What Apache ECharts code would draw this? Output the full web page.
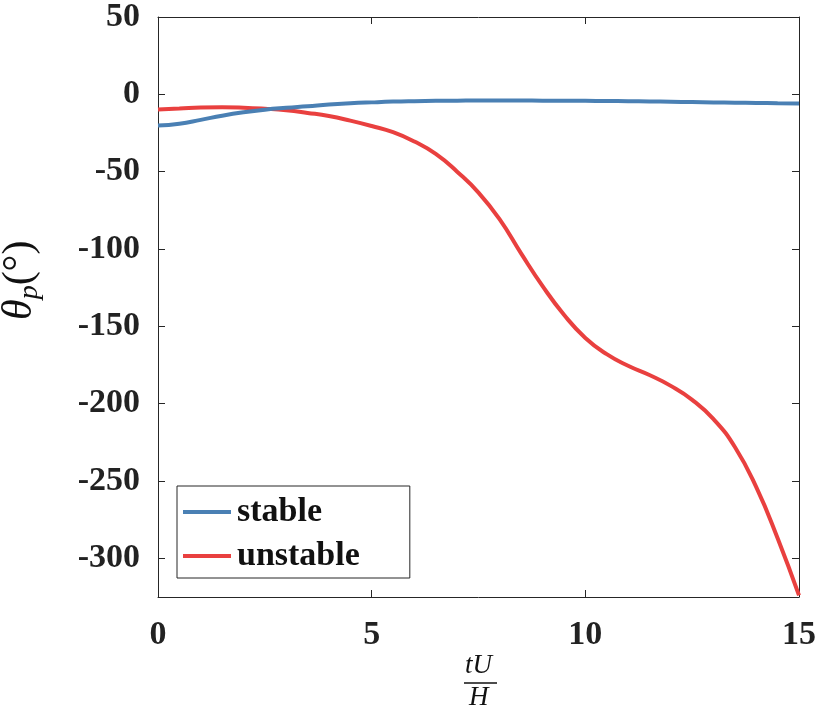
<!DOCTYPE html>
<html>
<head>
<meta charset="utf-8">
<script src="https://cdn.jsdelivr.net/npm/echarts@6/dist/echarts.min.js"></script>
<style>
  html, body { margin: 0; padding: 0; background: #fff; }
  #chart { width: 819px; height: 711px; }
</style>
</head>
<body>
<div id="chart"></div>
<script>
// time axis tU/H
var tVals = [0, 0.5, 1, 1.5, 2, 2.5, 3, 3.5, 4, 4.5, 5, 5.5, 6, 6.5, 7, 7.5,
             8, 8.5, 9, 9.5, 10, 10.5, 11, 11.5, 12, 12.5, 13, 13.5, 14, 14.5, 15];
// theta_p, stable case
var stableVals = [-20.2, -19, -16.5, -13.8, -11.6, -9.9, -8.7, -7.7, -6.6, -5.8,
                  -5.2, -4.7, -4.4, -4.2, -4.1, -4.0, -4.0, -4.0, -4.1, -4.1,
                  -4.2, -4.3, -4.4, -4.6, -4.8, -5.0, -5.2, -5.4, -5.6, -5.7, -5.9];
// theta_p, unstable case
var unstableVals = [-9.8, -9.2, -8.5, -8.3, -8.6, -9.3, -10.3, -12, -14, -17,
                    -20.5, -24.5, -30.5, -38.5, -50, -63.5, -81, -103, -124, -142.5,
                    -157.5, -168, -175.5, -181.5, -188.5, -197.5, -210, -228, -254, -287, -324];
var seriesNames = ['stable', 'unstable'];
var xTicks = [0, 5, 10, 15];
var yTicks = [50, 0, -50, -100, -150, -200, -250, -300];

function pairs(xs, ys) {
  var out = [];
  for (var i = 0; i < xs.length; i++) out.push([xs[i], ys[i]]);
  return out;
}

var serifBold = { fontFamily: 'Liberation Serif', fontWeight: 'bold', fontSize: 34, color: '#222' };
var axisCol = '#262626';
var tickStyle = { inside: true, length: 7, lineStyle: { color: axisCol } };

var myChart = echarts.init(document.getElementById('chart'));

var option = {
  animation: false,
  backgroundColor: '#fff',
  grid: { left: 158, right: 17, top: 15, bottom: 114, containLabel: false },
  xAxis: [{
    type: 'value', min: 0, max: 15, interval: 5,
    axisLine: { onZero: false, lineStyle: { color: axisCol, width: 1 } },
    axisTick: Object.assign({ customValues: xTicks }, tickStyle),
    axisLabel: Object.assign({ margin: 21, customValues: xTicks }, serifBold),
    splitLine: { show: false }
  }, {
    type: 'value', min: 0, max: 15, interval: 5, position: 'top',
    axisLine: { onZero: false, lineStyle: { color: axisCol, width: 1 } },
    axisTick: Object.assign({ customValues: xTicks }, tickStyle),
    axisLabel: { show: false }, splitLine: { show: false }
  }],
  yAxis: [{
    type: 'value', min: -325, max: 50, interval: 25,
    axisLine: { onZero: false, show: true, lineStyle: { color: axisCol, width: 1 } },
    axisTick: Object.assign({ show: true, customValues: yTicks }, tickStyle),
    axisLabel: Object.assign({ margin: 18, customValues: yTicks }, serifBold),
    splitLine: { show: false }
  }, {
    type: 'value', min: -325, max: 50, interval: 25, position: 'right',
    axisLine: { onZero: false, show: true, lineStyle: { color: axisCol, width: 1 } },
    axisTick: Object.assign({ show: true, customValues: yTicks }, tickStyle),
    axisLabel: { show: false }, splitLine: { show: false }
  }],
  legend: {
    data: seriesNames,
    orient: 'vertical',
    left: 177, top: 486,
    padding: [9, 50, 5, 6],
    itemGap: 10,
    itemWidth: 48, itemHeight: 4,
    icon: 'rect',
    borderColor: axisCol, borderWidth: 1, borderRadius: 0,
    backgroundColor: '#fff',
    textStyle: { fontFamily: 'Liberation Serif', fontWeight: 'bold', fontSize: 34, color: '#111', padding: [0, 0, 0, 1] }
  },
  series: [{
    name: seriesNames[0], type: 'line', smooth: 0.5, showSymbol: false,
    lineStyle: { width: 4, color: '#4a80b4' }, itemStyle: { color: '#4a80b4' },
    data: pairs(tVals, stableVals), z: 3
  }, {
    name: seriesNames[1], type: 'line', smooth: 0.5, showSymbol: false,
    lineStyle: { width: 4, color: '#e9403f' }, itemStyle: { color: '#e9403f' },
    data: pairs(tVals, unstableVals), z: 2
  }],
  graphic: [
    // x axis name, tU / H
    { type: 'text', left: 465, top: 652, style: { text: 'tU', font: 'italic 27px "Liberation Serif"', fill: '#111' } },
    { type: 'line', shape: { x1: 464, y1: 683, x2: 497, y2: 683 }, style: { stroke: '#111', lineWidth: 1.3 } },
    { type: 'text', left: 469, top: 684, style: { text: 'H', font: 'italic 27px "Liberation Serif"', fill: '#111' } },
    // y axis name
    {
      type: 'text', x: -4, y: 320, rotation: Math.PI / 2,
      style: {
        text: '{a|θ}{b|p}{c|(°)}',
        rich: {
          a: { fontFamily: 'Liberation Serif', fontStyle: 'italic', fontSize: 42, lineHeight: 48, fill: '#111' },
          b: { fontFamily: 'Liberation Serif', fontStyle: 'italic', fontSize: 28, lineHeight: 28, verticalAlign: 'bottom', fill: '#111' },
          c: { fontFamily: 'Liberation Serif', fontSize: 42, lineHeight: 48, fill: '#111' }
        }
      }
    }
  ]
};

myChart.setOption(option, true);
</script>
</body>
</html>
